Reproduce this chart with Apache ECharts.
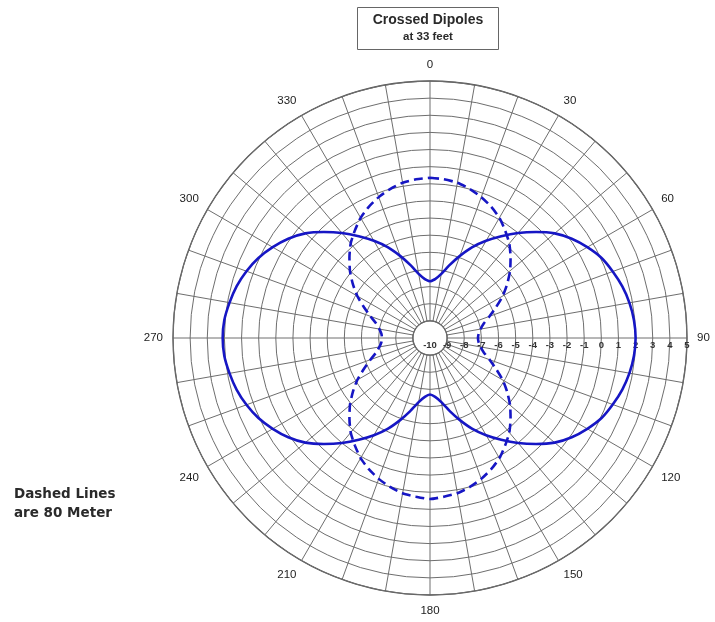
<!DOCTYPE html>
<html>
<head>
<meta charset="utf-8">
<title>Crossed Dipoles at 33 feet</title>
<script src="https://cdn.jsdelivr.net/npm/echarts@6/dist/echarts.min.js"></script>
<style>
  html, body { margin: 0; padding: 0; background: #fff; }
  #chart { width: 715px; height: 622px; }
</style>
</head>
<body>
<div id="chart"></div>
<script>
// Compass bearings (degrees, 0 = north, clockwise), every 5 degrees
const bearings = [
  0, 5, 10, 15, 20, 25, 30, 35, 40, 45, 50, 55, 60, 65, 70, 75, 80, 85,
  90, 95, 100, 105, 110, 115, 120, 125, 130, 135, 140, 145, 150, 155, 160, 165, 170, 175,
  180, 185, 190, 195, 200, 205, 210, 215, 220, 225, 230, 235, 240, 245, 250, 255, 260, 265,
  270, 275, 280, 285, 290, 295, 300, 305, 310, 315, 320, 325, 330, 335, 340, 345, 350, 355,
  360];

// Solid trace: relative gain in dB at each bearing
const solidGain = [
  -6.7, -6.55, -6.2, -5.6, -4.9, -4.15, -3.45, -2.75, -2.0, -1.25, -0.5, 0.1, 0.6, 1.05, 1.35, 1.62, 1.82, 1.95,
  2.0, 1.95, 1.82, 1.62, 1.35, 1.05, 0.6, 0.1, -0.5, -1.25, -2.0, -2.75, -3.45, -4.15, -4.9, -5.6, -6.2, -6.55,
  -6.7, -6.55, -6.2, -5.6, -4.9, -4.15, -3.45, -2.75, -2.0, -1.25, -0.5, 0.1, 0.6, 1.05, 1.4, 1.68, 1.88, 2.05,
  2.1, 2.05, 1.88, 1.68, 1.4, 1.05, 0.6, 0.1, -0.5, -1.25, -2.0, -2.75, -3.45, -4.15, -4.9, -5.6, -6.2, -6.55,
  -6.7];

// Dashed trace (80 meter): relative gain in dB at each bearing
const dashedGain = [
  -0.65, -0.7, -0.8, -1.0, -1.25, -1.55, -1.9, -2.35, -2.8, -3.35, -3.9, -4.5, -5.1, -5.75, -6.3, -6.75, -7.0, -7.15,
  -7.2, -7.15, -7.0, -6.75, -6.3, -5.75, -5.1, -4.5, -3.9, -3.35, -2.8, -2.35, -1.9, -1.55, -1.25, -1.0, -0.8, -0.7,
  -0.6, -0.7, -0.8, -1.0, -1.25, -1.55, -1.9, -2.35, -2.8, -3.35, -3.9, -4.5, -5.1, -5.75, -6.3, -6.75, -7.0, -7.15,
  -7.2, -7.15, -7.0, -6.75, -6.3, -5.75, -5.1, -4.5, -3.9, -3.35, -2.8, -2.35, -1.9, -1.55, -1.25, -1.0, -0.8, -0.7,
  -0.65];

// Ring scale (dB) and labelled bearings
const ringMin = -10, ringMax = 5, ringStep = 1;
const spokeStep = 10, angleLabelStep = 30;

// Caption texts
const chartTitle = 'Crossed Dipoles';
const chartSubtitle = 'at 33 feet';
const noteLines = ['Dashed Lines', 'are 80 Meter'];

const center = [430, 338];
const outerR = 257;
const innerR = outerR / (ringMax - ringMin) * ringStep; // hole inside the -9 dB ring

const toPairs = (gain) => gain.map((g, i) => [g, bearings[i]]);

const chart = echarts.init(document.getElementById('chart'), null, { renderer: 'canvas' });

const gridColor = '#6e6e6e';
const traceColor = '#1616c4';
const textColor = '#2a2a2a';

chart.setOption({
  backgroundColor: '#ffffff',
  animation: false,
  graphic: [
    {
      // boxed title, both lines centred
      type: 'group',
      left: 357,
      top: 7,
      children: [
        {
          type: 'rect',
          shape: { x: 0, y: 0, width: 141, height: 42 },
          style: { fill: '#ffffff', stroke: '#666', lineWidth: 1 }
        },
        {
          type: 'text',
          x: 70.5, y: 13,
          style: {
            text: chartTitle, align: 'center', verticalAlign: 'middle',
            font: 'bold 14px "Liberation Sans"', fill: textColor
          }
        },
        {
          type: 'text',
          x: 70.5, y: 29,
          style: {
            text: chartSubtitle, align: 'center', verticalAlign: 'middle',
            font: 'bold 11.5px "Liberation Sans"', fill: textColor
          }
        }
      ]
    },
    {
      type: 'text',
      left: 14,
      top: 485,
      style: {
        text: noteLines.join('\n'), lineHeight: 19,
        font: 'bold 13.5px "DejaVu Sans"', fill: textColor
      }
    }
  ],
  polar: [
    { center: center, radius: [0, outerR] },       // dB rings and their labels
    { center: center, radius: [innerR, outerR] },  // bearing spokes, rim and bearing labels
    { center: center, radius: [0, outerR] }        // traces
  ],
  angleAxis: [
    {
      polarIndex: 0, type: 'value', min: 0, max: 360, startAngle: 0,
      axisLine: { show: false }, axisTick: { show: false },
      axisLabel: { show: false }, splitLine: { show: false }
    },
    {
      polarIndex: 1, type: 'value', min: 0, max: 360, interval: spokeStep,
      startAngle: 90, clockwise: true,
      axisLine: { show: true, lineStyle: { color: '#555', width: 1.3 } },
      axisTick: { show: false },
      axisLabel: {
        show: true, margin: 10,
        fontFamily: 'Liberation Sans', fontSize: 11.5, color: '#222',
        formatter: (v) => (v % angleLabelStep === 0 && v < 360) ? String(v) : ''
      },
      splitLine: { show: true, lineStyle: { color: gridColor, width: 1 } }
    },
    {
      polarIndex: 2, type: 'value', min: 0, max: 360,
      startAngle: 90, clockwise: true, show: false
    }
  ],
  radiusAxis: [
    {
      polarIndex: 0, type: 'value', min: ringMin, max: ringMax, interval: ringStep,
      axisLine: { show: false },
      axisTick: { show: false },
      axisLabel: {
        show: true, margin: -12,
        fontFamily: 'Liberation Sans', fontSize: 9.5, fontWeight: 'bold', color: '#333'
      },
      splitLine: { show: true, lineStyle: { color: gridColor, width: 1 } },
      z: 3
    },
    { polarIndex: 1, type: 'value', min: ringMin + ringStep, max: ringMax, show: false },
    { polarIndex: 2, type: 'value', min: ringMin, max: ringMax, show: false }
  ],
  series: [
    {
      name: 'Solid',
      type: 'line',
      coordinateSystem: 'polar',
      polarIndex: 2,
      data: toPairs(solidGain),
      smooth: 0.2,
      showSymbol: false,
      lineStyle: { color: traceColor, width: 2.6 },
      z: 5
    },
    {
      name: '80 Meter',
      type: 'line',
      coordinateSystem: 'polar',
      polarIndex: 2,
      data: toPairs(dashedGain),
      smooth: 0.2,
      showSymbol: false,
      lineStyle: { color: traceColor, width: 2.6, type: [9, 5] },
      z: 5
    }
  ]
});
</script>
</body>
</html>
